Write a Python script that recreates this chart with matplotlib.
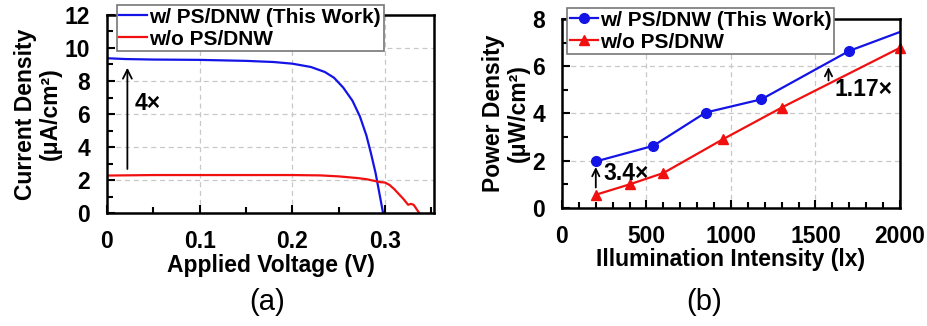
import matplotlib
matplotlib.use("Agg")
import matplotlib.pyplot as plt
from matplotlib.ticker import MultipleLocator

plt.rcParams['font.family'] = ['Liberation Sans', 'DejaVu Sans']
plt.rcParams['font.weight'] = 'bold'

# Panel (a) data: J-V curves
v_with = [0, 0.02, 0.05, 0.1, 0.15, 0.18, 0.2, 0.22, 0.235, 0.245, 0.255, 0.265,
          0.273, 0.28, 0.285, 0.29, 0.294, 0.298]
j_with = [9.38, 9.33, 9.3, 9.28, 9.22, 9.15, 9.05, 8.85, 8.55, 8.2, 7.6, 6.8,
          5.85, 4.7, 3.6, 2.4, 1.2, 0]
v_without = [0, 0.05, 0.1, 0.15, 0.2, 0.23, 0.25, 0.27, 0.28, 0.29, 0.295, 0.3,
             0.305, 0.31, 0.315, 0.32, 0.325, 0.328, 0.331, 0.334, 0.337]
j_without = [2.27, 2.3, 2.3, 2.3, 2.3, 2.28, 2.22, 2.12, 2.05, 1.93, 1.87, 1.85,
             1.7, 1.45, 1.15, 0.85, 0.5, 0.55, 0.5, 0.25, 0]

# Panel (b) data: power density vs illumination
lx_with = [200, 540, 850, 1180, 1700, 2000]
p_with = [1.97, 2.63, 4.04, 4.6, 6.65, 7.45]
lx_without = [200, 400, 600, 950, 1300, 2000]
p_without = [0.56, 1.0, 1.48, 2.9, 4.25, 6.78]

label_with = "w/ PS/DNW (This Work)"
label_without = "w/o PS/DNW"

BLUE = '#1414e6'
RED = '#f01010'
FS = 16.5
LFS = 15

fig = plt.figure(figsize=(9.28, 3.26), dpi=100)
ax1 = fig.add_axes([0.1153, 0.3466, 0.3524, 0.6074])
ax2 = fig.add_axes([0.6056, 0.362, 0.3642, 0.5798])

def style(ax):
    for s in ax.spines.values():
        s.set_linewidth(1.8)
    ax.tick_params(which='both', direction='in', width=1.5, labelsize=FS, pad=12)
    ax.tick_params(which='major', length=6)
    ax.tick_params(which='minor', length=4)
    ax.grid(True, which='major', linestyle=(0, (4, 3)), color='#c8c8c8', linewidth=0.9)
    ax.set_axisbelow(True)
    for lab in ax.get_xticklabels() + ax.get_yticklabels():
        lab.set_fontweight('bold')

def legend(ax, anchor):
    leg = ax.legend(loc='upper left', bbox_to_anchor=anchor,
                    prop={'weight': 'bold', 'size': LFS}, frameon=True, fancybox=False,
                    edgecolor='#777777', framealpha=1, handlelength=1.35,
                    handletextpad=0.1, labelspacing=0.15, borderpad=0.12,
                    borderaxespad=0)
    leg.get_frame().set_linewidth(1.2)
    return leg

# Panel (a)
ax1.plot(v_with, j_with, color=BLUE, lw=1.6, label=label_with)
ax1.plot(v_without, j_without, color=RED, lw=1.6, label=label_without)
ax1.set_xlim(0, 0.353)
ax1.set_ylim(0, 12)
ax1.xaxis.set_major_locator(MultipleLocator(0.1))
ax1.xaxis.set_minor_locator(MultipleLocator(0.05))
ax1.yaxis.set_major_locator(MultipleLocator(2))
ax1.yaxis.set_minor_locator(MultipleLocator(1))
ax1.set_xticks([0, 0.1, 0.2, 0.3])
ax1.set_xticklabels(['0', '0.1', '0.2', '0.3'])
style(ax1)
ax1.set_xlabel("Applied Voltage (V)", fontsize=FS, fontweight='bold', labelpad=1)
ax1.set_ylabel("Current Density\n(μA/cm²)", fontsize=FS, fontweight='bold', labelpad=2,
               linespacing=1.12)
ax1.annotate('', xy=(0.022, 8.97), xytext=(0.022, 2.5),
             arrowprops=dict(arrowstyle='->', color='black', lw=1.3, mutation_scale=16))
ax1.text(0.030, 6.65, "4×", fontsize=FS, fontweight='bold', va='center', ha='left')
legend(ax1, (0.03, 1.05))

# Panel (b)
ax2.plot(lx_with, p_with, color=BLUE, lw=1.6, marker='o', markersize=7,
         markevery=[0, 1, 2, 3, 4], label=label_with)
ax2.plot(lx_without, p_without, color=RED, lw=1.6, marker='^', markersize=7,
         label=label_without, clip_on=False)
ax2.set_xlim(0, 2000)
ax2.set_ylim(0, 8)
ax2.xaxis.set_major_locator(MultipleLocator(500))
ax2.xaxis.set_minor_locator(MultipleLocator(100))
ax2.yaxis.set_major_locator(MultipleLocator(2))
ax2.yaxis.set_minor_locator(MultipleLocator(1))
style(ax2)
ax2.set_xlabel("Illumination Intensity (lx)", fontsize=FS, fontweight='bold', labelpad=0)
ax2.set_ylabel("Power Density\n(μW/cm²)", fontsize=FS, fontweight='bold', labelpad=2,
               linespacing=1.12)
ax2.annotate('', xy=(200, 1.85), xytext=(200, 0.75),
             arrowprops=dict(arrowstyle='->', color='black', lw=1.3, mutation_scale=13))
ax2.text(243, 1.48, "3.4×", fontsize=FS, fontweight='bold', va='center', ha='left')
ax2.annotate('', xy=(1577, 6.08), xytext=(1577, 5.28),
             arrowprops=dict(arrowstyle='->', color='black', lw=1.3, mutation_scale=13))
ax2.text(1611, 5.0, "1.17×", fontsize=FS, fontweight='bold', va='center', ha='left')
legend(ax2, (0.015, 1.058))

fig.text(267 / 928, 1 - 302 / 326, "(a)", fontsize=21, fontweight='normal',
         ha='center', va='center')
fig.text(704 / 928, 1 - 302 / 326, "(b)", fontsize=21, fontweight='normal',
         ha='center', va='center')

fig.savefig("out.png", dpi=100)
